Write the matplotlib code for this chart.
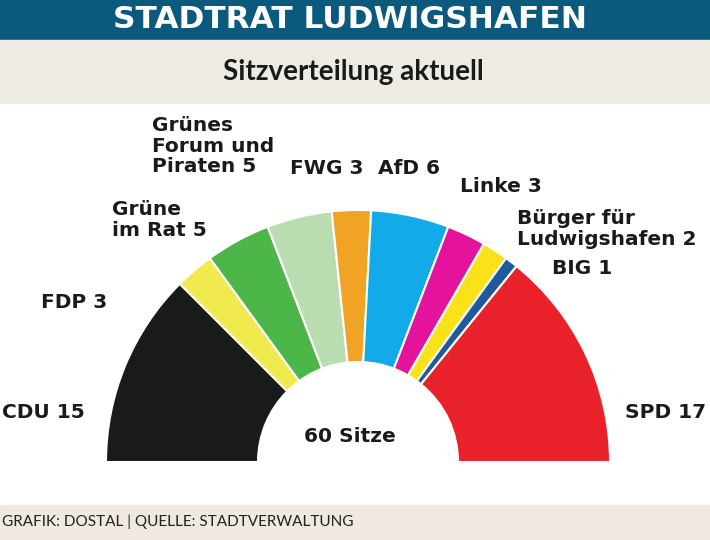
import numpy as np
import matplotlib
matplotlib.use("Agg")
import matplotlib.pyplot as plt
from matplotlib.patches import Wedge, Rectangle

# --- Daten ---
parteien = ["CDU", "FDP", "Grüne\nim Rat", "Grünes\nForum und\nPiraten", "FWG", "AfD",
            "Linke", "Bürger für\nLudwigshafen", "BIG", "SPD"]
sitze = [15, 3, 5, 5, 3, 6, 3, 2, 1, 17]
farben = ["#1b1a1a", "#f0ea4e", "#4cb649", "#b9dcb1", "#f0a324", "#12aae8",
          "#e5129b", "#f9e21a", "#1f5a9e", "#e8212b"]

# Label-Positionen (Pixel, y von oben) und Ausrichtung
label_pos = [(85, 413, "right"), (107, 302, "right"), (112, 220, "left"),
             (152, 146, "left"), (290, 168, "left"), (378, 168, "left"),
             (460, 186, "left"), (517, 229, "left"), (552, 268, "left"),
             (625, 413, "left")]

W, H = 710, 540
fig = plt.figure(figsize=(W / 100, H / 100), dpi=100)
ax = fig.add_axes([0, 0, 1, 1])
ax.set_xlim(0, W)
ax.set_ylim(0, H)
ax.axis("off")

def py(y):
    # Pixel von oben -> Datenkoordinate
    return H - y

# --- Hintergrund-Bänder ---
ax.add_patch(Rectangle((0, py(40)), W, 40, color="#0b5a7e", zorder=0))
ax.add_patch(Rectangle((0, py(103)), W, 63, color="#eeebe3", zorder=0))
ax.add_patch(Rectangle((0, 0), W, 35, color="#efe9e1", zorder=0))

ax.text(350, py(20), "STADTRAT LUDWIGSHAFEN", color="white", fontsize=22.5,
        fontweight="bold", ha="center", va="center", family="DejaVu Sans")
ax.text(353, py(72), "Sitzverteilung aktuell", color="#1b1a1a", fontsize=20,
        fontweight="bold", ha="center", va="center", family="Lato")
ax.text(2, py(522), "GRAFIK: DOSTAL | QUELLE: STADTVERWALTUNG", color="#222222",
        fontsize=11, ha="left", va="center", family="Lato")

# --- Halbkreis ---
cx, cy = 358, py(462)
r_out, r_in = 252, 100
gesamt = sum(sitze)
winkel = 180.0
for partei, n, farbe, (lx, ly, ha) in zip(parteien, sitze, farben, label_pos):
    w = 180.0 * n / gesamt
    ax.add_patch(Wedge((cx, cy), r_out, winkel - w, winkel, width=r_out - r_in,
                       facecolor=farbe, edgecolor="white", linewidth=1.5, zorder=2))
    winkel -= w
    ax.text(lx, py(ly), f"{partei} {n}", fontsize=14.5, fontweight="bold",
            ha=ha, va="center", color="#1b1a1a", linespacing=1.12,
            family="DejaVu Sans")

ax.text(350, py(436), f"{gesamt} Sitze", fontsize=14.5, fontweight="bold",
        ha="center", va="center", color="#1b1a1a", family="DejaVu Sans")

fig.savefig("out.png", dpi=100)
